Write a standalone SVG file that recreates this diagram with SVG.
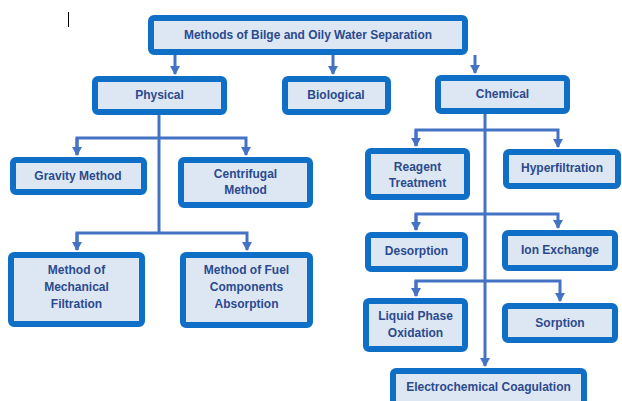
<svg xmlns="http://www.w3.org/2000/svg" width="622" height="401" viewBox="0 0 622 401">
<style>
.box{fill:#dde7f4;stroke:#0f6fc6;stroke-width:6}
.lbl{font-family:"Liberation Sans",Arial,sans-serif;font-weight:bold;font-size:12px;fill:#2b4a8e;text-anchor:middle}
.con{fill:none;stroke:#4472c4;stroke-width:3}
</style>
<defs>
<marker id="ah" markerUnits="userSpaceOnUse" markerWidth="12" markerHeight="10" refX="8" refY="5" orient="auto">
<path d="M0,0 L9,5 L0,10 Z" fill="#4472c4"/>
</marker>
</defs>
<rect width="622" height="401" fill="#ffffff"/>
<line x1="68.5" y1="12" x2="68.5" y2="27" stroke="#000" stroke-width="1"/>
<g id="connectors">
<path class="con" d="M175,55 V74" marker-end="url(#ah)"/>
<path class="con" d="M333,55 V74" marker-end="url(#ah)"/>
<path class="con" d="M475,55 V73" marker-end="url(#ah)"/>
<path class="con" d="M159,115 V234"/>
<path class="con" d="M77,155 V138 H246 V155" marker-end="url(#ah)"/>
<path class="con" d="M77,138 V155" marker-end="url(#ah)"/>
<path class="con" d="M77,250 V233 H247 V250" marker-end="url(#ah)"/>
<path class="con" d="M77,233 V250" marker-end="url(#ah)"/>
<path class="con" d="M485,114 V366" marker-end="url(#ah)"/>
<path class="con" d="M416,146 V130 H558 V147" marker-end="url(#ah)"/>
<path class="con" d="M416,130 V146" marker-end="url(#ah)"/>
<path class="con" d="M416,230 V214 H558 V228" marker-end="url(#ah)"/>
<path class="con" d="M416,214 V230" marker-end="url(#ah)"/>
<path class="con" d="M416,296 V281 H560 V301" marker-end="url(#ah)"/>
<path class="con" d="M416,281 V296" marker-end="url(#ah)"/>
</g>
<g id="root"><rect class="box" x="151" y="18" width="314" height="34" rx="3"/><text class="lbl" x="308" y="39" textLength="248" lengthAdjust="spacingAndGlyphs">Methods of Bilge and Oily Water Separation</text></g>
<g id="physical"><rect class="box" x="95" y="79" width="129" height="33" rx="3"/><text class="lbl" x="159.5" y="99">Physical</text></g>
<g id="biological"><rect class="box" x="285" y="79" width="103" height="33" rx="3"/><text class="lbl" x="336" y="99">Biological</text></g>
<g id="chemical"><rect class="box" x="438" y="78" width="129" height="33" rx="3"/><text class="lbl" x="502.5" y="98">Chemical</text></g>
<g id="gravity"><rect class="box" x="13" y="160" width="131" height="32" rx="3"/><text class="lbl" x="78" y="180">Gravity Method</text></g>
<g id="centrifugal"><rect class="box" x="181" y="160" width="129" height="45" rx="3"/><text class="lbl" x="245.5" y="178">Centrifugal</text><text class="lbl" x="245.5" y="194">Method</text></g>
<g id="mechanical"><rect class="box" x="11" y="255" width="131" height="69" rx="3"/><text class="lbl" x="76.5" y="274">Method of</text><text class="lbl" x="76.5" y="291">Mechanical</text><text class="lbl" x="76.5" y="308">Filtration</text></g>
<g id="fuel"><rect class="box" x="183" y="255" width="127" height="70" rx="3"/><text class="lbl" x="246.5" y="274">Method of Fuel</text><text class="lbl" x="246.5" y="291">Components</text><text class="lbl" x="246.5" y="308">Absorption</text></g>
<g id="reagent"><rect class="box" x="368" y="151" width="99" height="46" rx="3"/><text class="lbl" x="417.5" y="171">Reagent</text><text class="lbl" x="417.5" y="187">Treatment</text></g>
<g id="hyperfiltration"><rect class="box" x="506" y="152" width="112" height="34" rx="3"/><text class="lbl" x="562" y="172">Hyperfiltration</text></g>
<g id="desorption"><rect class="box" x="368" y="235" width="97" height="34" rx="3"/><text class="lbl" x="416.5" y="255">Desorption</text></g>
<g id="ionexchange"><rect class="box" x="505" y="233" width="110" height="35" rx="3"/><text class="lbl" x="560" y="254">Ion Exchange</text></g>
<g id="liquidphase"><rect class="box" x="366" y="301" width="99" height="48" rx="3"/><text class="lbl" x="415.5" y="320">Liquid Phase</text><text class="lbl" x="415.5" y="337">Oxidation</text></g>
<g id="sorption"><rect class="box" x="505" y="306" width="110" height="34" rx="3"/><text class="lbl" x="560" y="327">Sorption</text></g>
<g id="electrochemical"><rect class="box" x="393" y="371" width="191" height="40" rx="3"/><text class="lbl" x="488.5" y="391">Electrochemical Coagulation</text></g>
</svg>
